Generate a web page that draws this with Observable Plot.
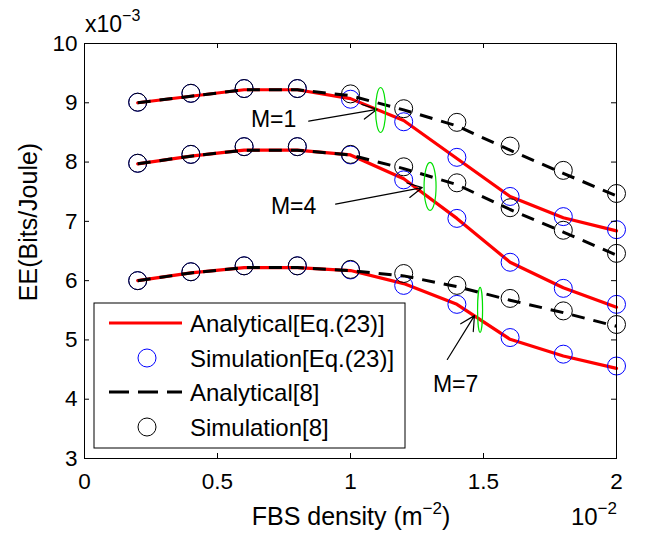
<!DOCTYPE html>
<html>
<head>
<meta charset="utf-8">
<script src="https://cdn.jsdelivr.net/npm/d3@7"></script>
<script src="https://cdn.jsdelivr.net/npm/@observablehq/plot@0.6"></script>
<style>
  body { margin: 0; background: #fff; }
</style>
</head>
<body>
<div id="chart"></div>
<script>
// ---------- data ----------
const density = [0.2, 0.4, 0.6, 0.8, 1.0, 1.2, 1.4, 1.6, 1.8, 2.0]; // ×10^-2 m^-2
const mValues = ["M=1", "M=4", "M=7"];

// EE ×10^-3 bits/Joule
const analyticalEq23 = [
  [9.00, 9.11, 9.22, 9.22, 9.07, 8.70, 8.06, 7.42, 7.06, 6.84],
  [7.97, 8.10, 8.20, 8.20, 8.12, 7.72, 7.05, 6.31, 5.88, 5.55],
  [6.00, 6.13, 6.22, 6.22, 6.17, 5.95, 5.60, 5.01, 4.73, 4.52]
];
const simulationEq23 = [
  [9.01, 9.16, 9.24, 9.24, 9.06, 8.68, 8.08, 7.42, 7.08, 6.86],
  [7.98, 8.13, 8.26, 8.26, 8.12, 7.70, 7.05, 6.31, 5.87, 5.60],
  [6.00, 6.15, 6.25, 6.25, 6.18, 5.92, 5.60, 5.04, 4.76, 4.56]
];
const analyticalRef8 = [
  [9.00, 9.11, 9.22, 9.22, 9.12, 8.88, 8.61, 8.20, 7.81, 7.43],
  [7.97, 8.10, 8.20, 8.20, 8.12, 7.89, 7.62, 7.20, 6.82, 6.43],
  [6.00, 6.13, 6.22, 6.22, 6.17, 6.08, 5.90, 5.67, 5.46, 5.23]
];
const simulationRef8 = [
  [9.01, 9.16, 9.24, 9.24, 9.15, 8.90, 8.67, 8.27, 7.86, 7.47],
  [7.98, 8.13, 8.26, 8.26, 8.13, 7.92, 7.65, 7.23, 6.85, 6.46],
  [6.00, 6.15, 6.25, 6.25, 6.19, 6.12, 5.92, 5.70, 5.49, 5.26]
];

const xTicks = [0, 0.5, 1, 1.5, 2];
const yTicks = [3, 4, 5, 6, 7, 8, 9, 10];

const legendLabels = ["Analytical[Eq.(23)]", "Simulation[Eq.(23)]", "Analytical[8]", "Simulation[8]"];

// annotations (data coordinates)
const annotLabel = ["M=1", "M=4", "M=7"];
const annotText = [[0.711, 8.72], [0.786, 7.25], [1.395, 4.25]];
const annotArrowFrom = [[0.843, 8.69], [0.944, 7.29], [1.364, 4.67]];
const annotArrowTo = [[1.100, 8.89], [1.270, 7.57], [1.466, 5.41]];
const annotEllipse = [[1.115, 8.87], [1.301, 7.58], [1.489, 5.50]];

// ---------- tidy tables ----------
function tidy(series) {
  const rows = [];
  series.forEach((vals, k) => vals.forEach((v, i) => rows.push({x: density[i], y: v, M: mValues[k]})));
  return rows;
}
const rowsA23 = tidy(analyticalEq23);
const rowsS23 = tidy(simulationEq23);
const rowsA8 = tidy(analyticalRef8);
const rowsS8 = tidy(simulationRef8);
const annots = annotLabel.map((t, i) => ({
  label: t,
  tx: annotText[i][0], ty: annotText[i][1],
  x1: annotArrowFrom[i][0], y1: annotArrowFrom[i][1],
  x2: annotArrowTo[i][0], y2: annotArrowTo[i][1],
  ex: annotEllipse[i][0], ey: annotEllipse[i][1]
}));

// ---------- layout ----------
const W = 649, H = 536;
const mL = 84, mR = 33, mT = 43, mB = 78;
const plotW = W - mL - mR, plotH = H - mT - mB;
const FONT = "'Liberation Sans', Arial, Helvetica, sans-serif";
const tickLen = 5;

const chart = Plot.plot({
  width: W,
  height: H,
  marginLeft: mL,
  marginRight: mR,
  marginTop: mT,
  marginBottom: mB,
  x: {domain: [0, 2]},
  y: {domain: [3, 10]},
  style: {fontFamily: FONT, fontSize: "22px", background: "white", color: "black", overflow: "visible"},
  marks: [
    Plot.line(rowsA23, {x: "x", y: "y", z: "M", stroke: "#ff0000", strokeWidth: 3.2, strokeLinejoin: "round"}),
    Plot.dot(rowsS23, {x: "x", y: "y", r: 9, stroke: "#0000ff", strokeWidth: 1}),
    Plot.line(rowsA8, {x: "x", y: "y", z: "M", stroke: "black", strokeWidth: 3, strokeDasharray: "13,9", strokeLinecap: "butt"}),
    Plot.dot(rowsS8, {x: "x", y: "y", r: 9, stroke: "black", strokeWidth: 1}),
    Plot.arrow(annots, {x1: "x1", y1: "y1", x2: "x2", y2: "y2", stroke: "black", strokeWidth: 1.2, headLength: 20, headAngle: 55}),
    Plot.text(annots, {x: "tx", y: "ty", text: "label", fontSize: 23, fill: "black"}),
    Plot.frame({stroke: "black", strokeWidth: 1}),
    Plot.tickX(xTicks, {x: d => d, insetTop: plotH - tickLen, stroke: "black"}),
    Plot.tickX(xTicks, {x: d => d, insetBottom: plotH - tickLen, stroke: "black"}),
    Plot.tickY(yTicks, {y: d => d, insetRight: plotW - tickLen, stroke: "black"}),
    Plot.tickY(yTicks, {y: d => d, insetLeft: plotW - tickLen, stroke: "black"}),
    Plot.axisX({ticks: xTicks, tickFormat: d => String(d), tickSize: 0, tickPadding: 15, fontSize: 22.5, label: null}),
    Plot.axisY({ticks: yTicks, tickFormat: d => String(d), tickSize: 0, tickPadding: 7, fontSize: 22.5, label: null})
  ]
});

document.getElementById("chart").appendChild(chart);

// ---------- extras drawn with d3 ----------
const svg = d3.select(chart);
const sx = chart.scale("x"), sy = chart.scale("y");

// green ellipses
const ellipseR = [[5, 22.5], [6, 24], [2.5, 22.5]];
svg.append("g").selectAll("ellipse").data(annots).join("ellipse")
  .attr("cx", d => sx.apply(d.ex))
  .attr("cy", d => sy.apply(d.ey))
  .attr("rx", (d, i) => ellipseR[i][0])
  .attr("ry", (d, i) => ellipseR[i][1])
  .attr("fill", "none")
  .attr("stroke", "#00e000")
  .attr("stroke-width", 1.2);

const g = svg.append("g").attr("font-family", FONT).attr("fill", "black");

// y label
g.append("text")
  .attr("transform", "translate(37,222) rotate(-90)")
  .attr("text-anchor", "middle")
  .attr("font-size", 25)
  .text("EE(Bits/Joule)");

// x label with superscript
const xl = g.append("text").attr("x", 351).attr("y", 525).attr("text-anchor", "middle").attr("font-size", 25);
xl.append("tspan").text("FBS density (m");
xl.append("tspan").attr("font-size", 17).attr("dy", -11).text("\u22122");
xl.append("tspan").attr("dy", 11).text(")");

// x exponent
const xe = g.append("text").attr("x", 617).attr("y", 525).attr("text-anchor", "end").attr("font-size", 24);
xe.append("tspan").text("10");
xe.append("tspan").attr("font-size", 17).attr("dy", -11).text("\u22122");

// y exponent
const ye = g.append("text").attr("x", 85).attr("y", 32).attr("text-anchor", "start").attr("font-size", 23);
ye.append("tspan").text("x10");
ye.append("tspan").attr("font-size", 16).attr("dy", -11).text("\u22123");

// legend
const lg = svg.append("g").attr("font-family", FONT);
lg.append("rect").attr("x", 94).attr("y", 303).attr("width", 311).attr("height", 145)
  .attr("fill", "white").attr("stroke", "black").attr("stroke-width", 1);
const rowY = [323, 358, 392, 427];
lg.append("line").attr("x1", 109).attr("x2", 182).attr("y1", rowY[0]).attr("y2", rowY[0])
  .attr("stroke", "#ff0000").attr("stroke-width", 3.2);
lg.append("circle").attr("cx", 147).attr("cy", rowY[1]).attr("r", 9)
  .attr("fill", "none").attr("stroke", "#0000ff").attr("stroke-width", 1);
lg.append("line").attr("x1", 109).attr("x2", 182).attr("y1", rowY[2]).attr("y2", rowY[2])
  .attr("stroke", "black").attr("stroke-width", 3).attr("stroke-dasharray", "20,9");
lg.append("circle").attr("cx", 147).attr("cy", rowY[3]).attr("r", 9)
  .attr("fill", "none").attr("stroke", "black").attr("stroke-width", 1);
lg.selectAll("text.lab").data(legendLabels).join("text")
  .attr("class", "lab")
  .attr("x", 190)
  .attr("y", (d, i) => rowY[i])
  .attr("dy", "0.36em")
  .attr("text-anchor", "start")
  .attr("font-size", 24)
  .attr("fill", "black")
  .text(d => d);
</script>
</body>
</html>
